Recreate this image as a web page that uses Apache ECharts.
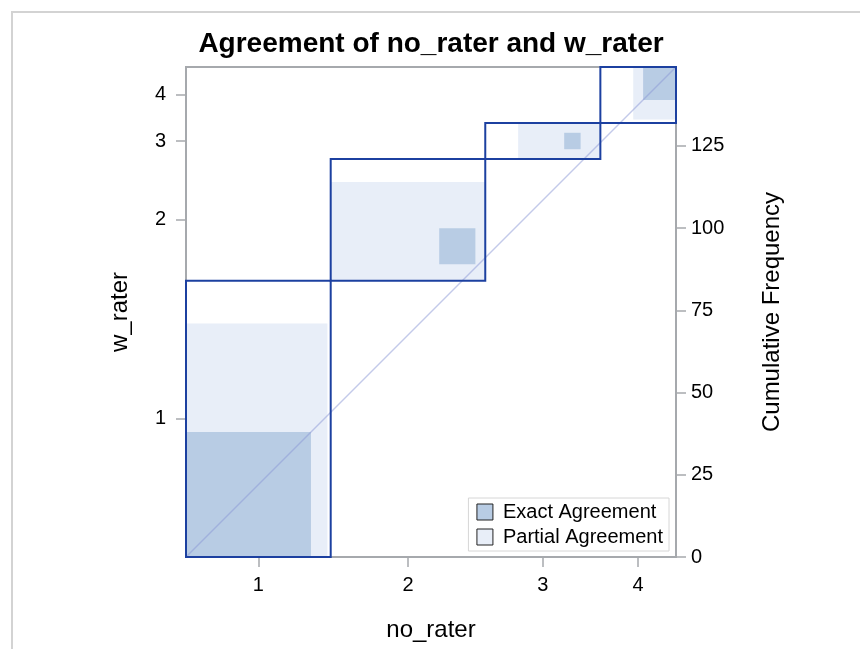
<!DOCTYPE html>
<html>
<head>
<meta charset="utf-8">
<script src="https://cdn.jsdelivr.net/npm/echarts@6/dist/echarts.min.js"></script>
<style>html,body{margin:0;padding:0;background:#fff;}#c{width:860px;height:649px;}</style>
</head>
<body>
<div id="c"></div>
<script>
// Categories of both raters
const categories = ['1', '2', '3', '4'];
// Cell counts: for each no_rater category, counts by w_rater = 1..4
const noRater1 = [38, 5, 0, 1];
const noRater2 = [33, 11, 3, 0];
const noRater3 = [10, 14, 5, 6];
const noRater4 = [3, 7, 3, 10];
// Right axis tick labels (cumulative frequency)
const cumTicks = [0, 25, 50, 75, 100, 125];

const table = [noRater1, noRater2, noRater3, noRater4];
const K = categories.length;
const colTot = table.map(r => r.reduce((a, b) => a + b, 0));
const rowTot = categories.map((_, j) => table.reduce((a, r) => a + r[j], 0));
const N = colTot.reduce((a, b) => a + b, 0);
const colCum = [0]; colTot.forEach(v => colCum.push(colCum[colCum.length - 1] + v));
const rowCum = [0]; rowTot.forEach(v => rowCum.push(rowCum[rowCum.length - 1] + v));
const sumCol = (k, from, to) => { let s = 0; for (let j = Math.max(0, from); j <= Math.min(K - 1, to); j++) s += table[k][j]; return s; };
const sumRow = (k, from, to) => { let s = 0; for (let i = Math.max(0, from); i <= Math.min(K - 1, to); i++) s += table[i][k]; return s; };

const boxes = [], exact = [], partial = [];
for (let k = 0; k < K; k++) {
  boxes.push([colCum[k], rowCum[k], colCum[k + 1], rowCum[k + 1]]);
  const ex0 = colCum[k] + sumCol(k, 0, k - 1), ey0 = rowCum[k] + sumRow(k, 0, k - 1);
  exact.push([ex0, ey0, ex0 + table[k][k], ey0 + table[k][k]]);
  partial.push([colCum[k] + sumCol(k, 0, k - 2), rowCum[k] + sumRow(k, 0, k - 2),
                colCum[k] + sumCol(k, 0, k + 1), rowCum[k] + sumRow(k, 0, k + 1)]);
}
const colMid = categories.map((_, k) => (colCum[k] + colCum[k + 1]) / 2);
const rowMid = categories.map((_, k) => (rowCum[k] + rowCum[k + 1]) / 2);

const FONT = '"Liberation Sans", Arial, sans-serif';
const EXACT = '#b8cce4', PARTIAL = '#e8eef8', BLUE = '#1c40a0', FRAME = '#a6a9ad';

function rectRender(style) {
  return function (params, api) {
    const p0 = api.coord([api.value(0), api.value(1)]);
    const p1 = api.coord([api.value(2), api.value(3)]);
    return {
      type: 'rect',
      shape: { x: Math.min(p0[0], p1[0]), y: Math.min(p0[1], p1[1]),
               width: Math.abs(p1[0] - p0[0]), height: Math.abs(p1[1] - p0[1]) },
      style: style
    };
  };
}

const chart = echarts.init(document.getElementById('c'), null, { renderer: 'canvas' });
chart.setOption({
  animation: false,
  backgroundColor: '#fff',
  textStyle: { fontFamily: FONT },
  title: {
    text: 'Agreement of no_rater and w_rater',
    left: 426, top: 25, textAlign: 'center',
    textStyle: { fontFamily: FONT, fontSize: 28, fontWeight: 'bold', color: '#000' }
  },
  grid: { left: 186, top: 67, width: 490, height: 490, show: true,
          borderColor: FRAME, borderWidth: 2, backgroundColor: 'transparent' },
  legend: {
    orient: 'vertical', right: 191, bottom: 98,
    backgroundColor: '#fff', borderColor: '#d6d6d6', borderWidth: 1,
    padding: [4, 6, 4, 8], itemGap: 5, itemWidth: 16, itemHeight: 16,
    icon: 'rect',
    textStyle: { fontFamily: FONT, fontSize: 20, color: '#000', padding: [0, 0, 0, 5] },
    data: [
      { name: 'Exact Agreement', itemStyle: { color: EXACT, borderColor: '#222', borderWidth: 1 } },
      { name: 'Partial Agreement', itemStyle: { color: PARTIAL, borderColor: '#222', borderWidth: 1 } }
    ]
  },
  xAxis: {
    type: 'value', min: 0, max: N,
    name: 'no_rater', nameLocation: 'middle', nameGap: 61,
    nameTextStyle: { fontFamily: FONT, fontSize: 24, color: '#000' },
    axisLine: { show: false },
    splitLine: { show: false },
    axisTick: { show: true, length: 10, customValues: colMid, lineStyle: { color: FRAME, width: 1.5 } },
    axisLabel: { customValues: colMid, margin: 18, fontFamily: FONT, fontSize: 20, color: '#000',
                 formatter: v => categories[colMid.indexOf(v)] }
  },
  yAxis: [{
    type: 'value', min: 0, max: N, position: 'left',
    name: 'w_rater', nameLocation: 'middle', nameGap: 54,
    nameTextStyle: { fontFamily: FONT, fontSize: 24, color: '#000' },
    axisLine: { show: false },
    splitLine: { show: false },
    axisTick: { show: true, length: 10, customValues: rowMid, lineStyle: { color: FRAME, width: 1.5 } },
    axisLabel: { customValues: rowMid, margin: 20, fontFamily: FONT, fontSize: 20, color: '#000',
                 formatter: v => categories[rowMid.indexOf(v)] }
  }, {
    type: 'value', min: 0, max: N, position: 'right',
    name: 'Cumulative Frequency', nameLocation: 'middle', nameGap: 84,
    nameTextStyle: { fontFamily: FONT, fontSize: 24, color: '#000' },
    axisLine: { show: false },
    splitLine: { show: false },
    axisTick: { show: true, length: 10, customValues: cumTicks, lineStyle: { color: FRAME, width: 1.5 } },
    axisLabel: { customValues: cumTicks, margin: 15, fontFamily: FONT, fontSize: 20, color: '#000' }
  }],
  series: [
    { type: 'custom', name: 'Partial Agreement', xAxisIndex: 0, yAxisIndex: 0, z: 1,
      itemStyle: { color: PARTIAL }, renderItem: rectRender({ fill: PARTIAL }), data: partial },
    { type: 'custom', name: 'Exact Agreement', xAxisIndex: 0, yAxisIndex: 0, z: 2,
      itemStyle: { color: EXACT }, renderItem: rectRender({ fill: EXACT }), data: exact },
    { type: 'line', name: 'diag', xAxisIndex: 0, yAxisIndex: 0, z: 3, symbol: 'none', silent: true,
      lineStyle: { color: '#8795d6', opacity: 0.5, width: 1.5 }, data: [[0, 0], [N, N]] },
    { type: 'custom', name: 'box', xAxisIndex: 0, yAxisIndex: 0, z: 4,
      renderItem: rectRender({ fill: 'none', stroke: BLUE, lineWidth: 2 }), data: boxes }
  ],
  graphic: [
    { type: 'line', shape: { x1: 11, y1: 12, x2: 860, y2: 12 }, style: { stroke: '#d3d3d3', lineWidth: 2 }, silent: true },
    { type: 'line', shape: { x1: 12, y1: 11, x2: 12, y2: 649 }, style: { stroke: '#d3d3d3', lineWidth: 2 }, silent: true }
  ]
});
</script>
</body>
</html>
